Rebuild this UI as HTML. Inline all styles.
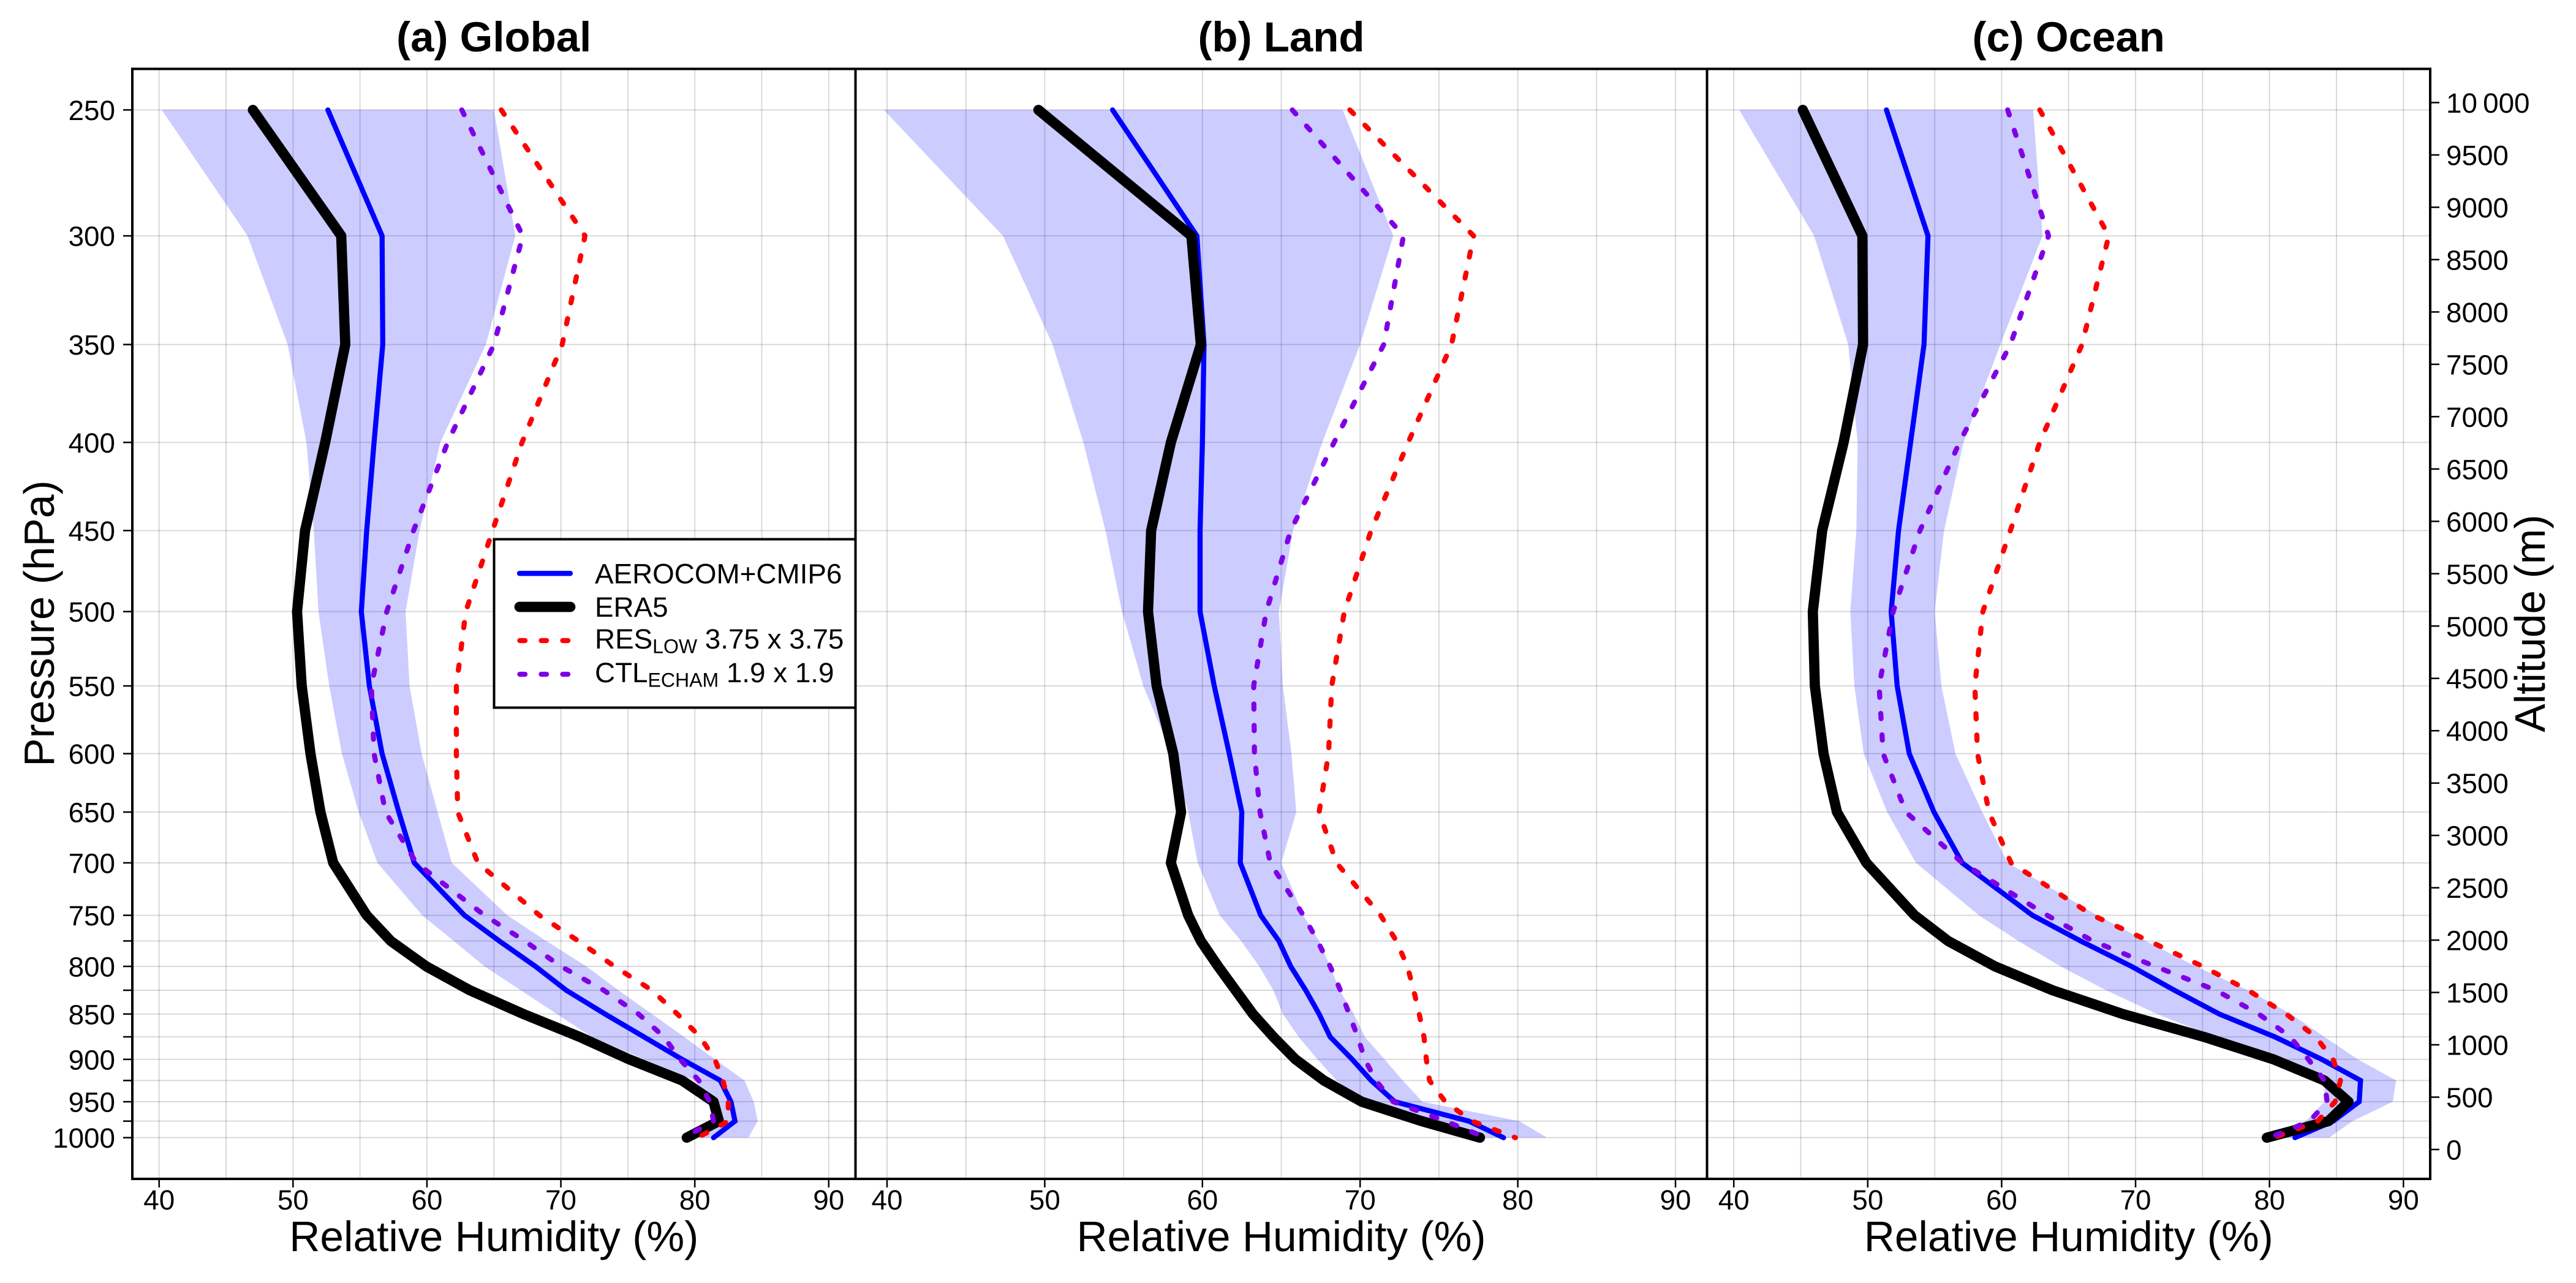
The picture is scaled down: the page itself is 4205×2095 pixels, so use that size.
<!DOCTYPE html>
<html lang="en">
<head>
<meta charset="utf-8">
<title>Relative humidity profiles</title>
<style>
html,body{margin:0;padding:0;background:#fff;}
svg{display:block;font-family:"Liberation Sans",Arial,sans-serif;}
</style>
</head>
<body>
<svg id="chart" xmlns="http://www.w3.org/2000/svg" width="4205" height="2095" viewBox="0 0 4205 2095">
  <rect x="0" y="0" width="4205" height="2095" fill="#fff"/>
  <g id="panels"></g>
  <text transform="translate(88,1018) rotate(-90)" text-anchor="middle" font-size="69.5">Pressure (hPa)</text>
  <text transform="translate(4154,1018) rotate(-90)" text-anchor="middle" font-size="69.5">Altitude (m)</text>
  <g>
    <rect x="806.5" y="880.5" width="590" height="275" fill="#fff" stroke="#000" stroke-width="4"/>
    <line x1="848" y1="936.3" x2="931" y2="936.3" stroke="#0000ff" stroke-width="8.3" stroke-linecap="round"/>
    <line x1="848" y1="991" x2="931" y2="991" stroke="#000" stroke-width="16.7" stroke-linecap="round"/>
    <line x1="848.5" y1="1046" x2="935" y2="1046" stroke="#ff0000" stroke-width="8.3" stroke-linecap="round" stroke-dasharray="8.6 26.4"/>
    <line x1="848.5" y1="1101" x2="935" y2="1101" stroke="#8000e6" stroke-width="8.3" stroke-linecap="round" stroke-dasharray="8.6 26.4"/>
    <text x="971" y="952.3" font-size="45.8">AEROCOM+CMIP6</text>
    <text x="971" y="1007" font-size="45.8">ERA5</text>
    <text x="971" y="1059" font-size="45.8">RES<tspan dy="7.7" font-size="32">LOW</tspan><tspan dy="-7.7"> 3.75 x 3.75</tspan></text>
    <text x="971" y="1114" font-size="45.8">CTL<tspan dy="7.7" font-size="32">ECHAM</tspan><tspan dy="-7.7"> 1.9 x 1.9</tspan></text>
  </g>
  <g id="frames"></g>
</svg>
<script>
// ---------- shared axis values ----------
const pressureLevels = [250,300,350,400,450,500,550,600,650,700,750,775,800,825,850,875,900,925,950,975,1000];
const levelAltitudes = [9930,8727,7689,6754,5912,5138,4428,3781,3223,2738,2237,1992,1749,1521,1294,1076,861,659,456,271,113];
const pressureTickLabels = [250,300,350,400,450,500,550,600,650,700,750,800,850,900,950,1000];
const rhMajorTicks = [40,50,60,70,80,90];
const rhMinorTicks = [45,55,65,75,85];
const altitudeTicks = [0,500,1000,1500,2000,2500,3000,3500,4000,4500,5000,5500,6000,6500,7000,7500,8000,8500,9000,9500,10000];
const panelTitles = ['(a) Global','(b) Land','(c) Ocean'];
const panelKeys = ['global','land','ocean'];

// ---------- (a) Global ----------
const globalEra5   = [47.0,53.6,53.9,52.4,50.9,50.3,50.65,51.3,52.05,53.0,55.5,57.3,59.95,63.2,67.2,71.4,75.1,79.05,81.4,81.8,79.4];
const globalModel  = [52.6,56.65,56.7,56.05,55.5,55.1,55.7,56.65,57.9,59.05,62.8,65.4,68.1,70.4,73.3,76.2,79.05,81.9,82.7,83.0,81.4];
const globalRes    = [65.55,71.8,70.1,67.1,64.9,62.9,62.2,62.2,62.3,63.8,68.4,71.3,74,76.8,78.7,80.4,81.5,82.1,82.5,82.5,80.2];
const globalCtl    = [62.6,67.15,65.0,61.55,59,57,55.85,56.05,56.9,59.2,64.3,67.3,70,73.2,75.8,77.7,78.9,80.3,81.1,81.4,79.2];
const globalLow    = [40.2,46.6,49.6,51,51.55,51.9,52.7,53.65,54.9,56.3,59.65,62,64.3,67,69.7,72.3,76.2,80,81,81.3,80.3];
const globalHigh   = [65,66.6,64.4,61,59.45,58.4,58.7,59.6,60.8,61.85,66,68.9,71.9,74.3,76.8,79.2,81.5,83.7,84.4,84.7,84];

// ---------- (b) Land ----------
const landEra5   = [49.6,59.3,59.9,58,56.75,56.55,57.1,58.15,58.65,58,59.1,59.9,61,62.1,63.2,64.5,65.9,67.7,70.1,73.9,77.6];
const landModel  = [54.3,59.65,60.1,60,59.85,59.85,60.75,61.7,62.5,62.4,63.7,64.85,65.6,66.55,67.4,68.1,69.5,70.7,72.2,76.9,79.1];
const landRes    = [69.35,77.2,75.8,73.05,70.7,69,68.2,68,67.4,68.5,71.3,72.3,73,73.4,73.75,74.05,74.2,74.4,75.4,77.1,79.85];
const landCtl    = [65.7,72.75,71.5,68.35,65.6,64.05,63.25,63.3,63.65,64.3,66.4,67.3,68.1,68.75,69.3,69.85,70.3,71,72.1,75.4,78];
const landLow    = [39.8,47.35,50.5,52.45,53.85,54.9,56.25,58.05,59.1,59.7,61.1,62.45,63.6,64.5,65.1,66.1,67.3,68.5,70.1,75,77.6];
const landHigh   = [68.9,72.1,70,67.6,65.75,64.85,65.1,65.65,65.95,65,66.4,67.4,68.1,68.7,69.6,70.3,71.55,72.7,73.95,80.1,81.85];

// ---------- (c) Ocean ----------
const oceanEra5   = [45.15,49.6,49.65,48.2,46.6,45.9,46.05,46.7,47.7,49.9,53.5,56,59.5,63.8,69.05,75.1,80.3,84.1,85.9,84.4,79.8];
const oceanModel  = [51.4,54.5,54.2,53.2,52.3,51.75,52.2,53.1,54.95,57.05,62.3,65.9,69.7,72.9,76.25,80.4,83.9,86.8,86.7,84.75,81.9];
const oceanRes    = [62.85,68,66,62.85,60.65,58.6,58,58.2,59.05,60.7,66.8,71,75,78.4,81.25,83.45,84.75,85.3,84.9,83.6,80.35];
const oceanCtl    = [60.45,63.5,60.65,56.85,53.9,51.9,50.85,51.15,52.85,57.05,63.4,66.8,71.45,76,79.2,81.55,82.9,84.1,84.3,83,80];
const oceanLow    = [40.4,46,48.55,49.25,49.15,48.7,49,49.7,51.45,53.6,58.3,61.25,64.4,67.8,71.6,75.9,80.1,84.1,84.1,82.7,80.4];
const oceanHigh   = [62.35,63.05,59.9,57.15,55.7,55,55.5,56.55,58.55,60.45,67.15,70.75,74.5,78.4,81.6,84.1,86.6,89.45,89.2,86.2,84.45];

const panelEra5  = [globalEra5, landEra5, oceanEra5];
const panelModel = [globalModel, landModel, oceanModel];
const panelRes   = [globalRes, landRes, oceanRes];
const panelCtl   = [globalCtl, landCtl, oceanCtl];
const panelLow   = [globalLow, landLow, oceanLow];
const panelHigh  = [globalHigh, landHigh, oceanHigh];

// ---------- axis functions ----------
const NS = 'http://www.w3.org/2000/svg';
const panelEdges = [216, 1396.5, 2786.5, 3967];
const PLOT_TOP = 112.5, PLOT_BOTTOM = 1925;
const RH_MIN = 38, RH_MAX = 92;
function xScale(panel, rh){
  const l = panelEdges[panel], r = panelEdges[panel + 1];
  return l + (rh - RH_MIN) * (r - l) / (RH_MAX - RH_MIN);
}
function altScale(alt){ return 1877 - 0.17095 * alt; }
function yScale(level){ return altScale(levelAltitudes[pressureLevels.indexOf(level)]); }
function minorLevels(){ return pressureLevels.filter(p => pressureTickLabels.indexOf(p) < 0); }
function linePoints(panel, values){
  return values.map((v, i) => xScale(panel, v).toFixed(1) + ',' + yScale(pressureLevels[i]).toFixed(1)).join(' ');
}
function make(parent, tag, attrs, txt){
  const e = document.createElementNS(NS, tag);
  for (const k in attrs) e.setAttribute(k, attrs[k]);
  if (txt !== undefined) e.textContent = txt;
  parent.appendChild(e);
  return e;
}

// ---------- draw ----------
const panelsLayer = document.getElementById('panels');
const framesLayer = document.getElementById('frames');
const GRID = {stroke:'rgba(0,0,0,0.15)','stroke-width':2};

panelKeys.forEach(function(key, p){
  const l = panelEdges[p], r = panelEdges[p + 1];
  const g = make(panelsLayer, 'g', {});
  
  

  rhMajorTicks.concat(rhMinorTicks).forEach(function(t){
    const x = xScale(p, t);
    const gl = make(g, 'line', Object.assign({x1:x, x2:x, y1:PLOT_TOP, y2:PLOT_BOTTOM}, GRID));
    
    
  });
  pressureLevels.forEach(function(lev){
    const y = yScale(lev);
    const gl = make(g, 'line', Object.assign({x1:l, x2:r, y1:y, y2:y}, GRID));
    
    
  });

  const upper = panelHigh[p].map((v, i) => xScale(p, v).toFixed(1) + ',' + yScale(pressureLevels[i]).toFixed(1));
  const lower = panelLow[p].map((v, i) => xScale(p, v).toFixed(1) + ',' + yScale(pressureLevels[i]).toFixed(1)).reverse();
  const band = make(g, 'polygon', {points: upper.concat(lower).join(' '), fill:'#0000ff', 'fill-opacity':0.2});
  
  

  const model = make(g, 'polyline', {points: linePoints(p, panelModel[p]), fill:'none', stroke:'#0000ff', 'stroke-width':8.3, 'stroke-linecap':'round', 'stroke-linejoin':'miter'});
  
  

  const era = make(g, 'polyline', {points: linePoints(p, panelEra5[p]), fill:'none', stroke:'#000', 'stroke-width':16.7, 'stroke-linecap':'round', 'stroke-linejoin':'round'});
  
  

  const res = make(g, 'polyline', {points: linePoints(p, panelRes[p]), fill:'none', stroke:'#ff0000', 'stroke-width':8.3, 'stroke-linecap':'round', 'stroke-linejoin':'round', 'stroke-dasharray':'8.6 26.4'});
  
  

  const ctl = make(g, 'polyline', {points: linePoints(p, panelCtl[p]), fill:'none', stroke:'#8000e6', 'stroke-width':8.3, 'stroke-linecap':'round', 'stroke-linejoin':'round', 'stroke-dasharray':'8.6 26.4'});
  
  

  const title = make(g, 'text', {x:(l + r) / 2, y:84, 'text-anchor':'middle', 'font-size':69, 'font-weight':'bold'}, panelTitles[p]);
  
  

  const xTitle = make(g, 'text', {x:(l + r) / 2, y:2043, 'text-anchor':'middle', 'font-size':69.5}, 'Relative Humidity (%)');
  
  

  rhMajorTicks.forEach(function(t){
    const x = xScale(p, t);
    const tk = make(g, 'line', {x1:x, x2:x, y1:PLOT_BOTTOM, y2:1939, stroke:'#000', 'stroke-width':2.5});
    
    
    const lb = make(g, 'text', {x:x, y:1975, 'text-anchor':'middle', 'font-size':45.8}, String(t));
    
    
  });

  const frame = make(framesLayer, 'rect', {x:l, y:PLOT_TOP, width:r - l, height:PLOT_BOTTOM - PLOT_TOP, fill:'none', stroke:'#000', 'stroke-width':4});
  
  
});

pressureTickLabels.forEach(function(lev){
  const y = yScale(lev);
  const tk = make(framesLayer, 'line', {x1:201, x2:216, y1:y, y2:y, stroke:'#000', 'stroke-width':2.5});
  
  
  const lb = make(framesLayer, 'text', {x:188, y:y + 16.5, 'text-anchor':'end', 'font-size':45.8}, String(lev));
  
  
});
minorLevels().forEach(function(lev){
  const y = yScale(lev);
  const tk = make(framesLayer, 'line', {x1:201, x2:216, y1:y, y2:y, stroke:'#000', 'stroke-width':2.5});
  
  
});
altitudeTicks.forEach(function(a){
  const y = altScale(a);
  const tk = make(framesLayer, 'line', {x1:3967, x2:3982, y1:y, y2:y, stroke:'#000', 'stroke-width':2.5});
  
  
  const txt = a >= 10000 ? '10\u2009000' : String(a);
  const lb = make(framesLayer, 'text', {x:3993, y:y + 16.5, 'font-size':45.8}, txt);
  
  
});
</script>
</body>
</html>
